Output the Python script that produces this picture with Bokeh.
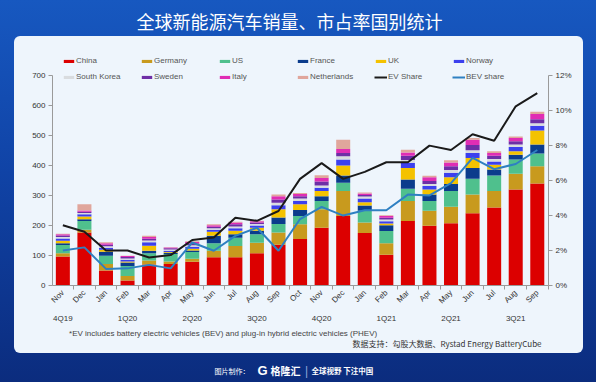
from math import pi
from bokeh.plotting import figure
from bokeh.layouts import column, row
from bokeh.models import (Range1d, LinearAxis, FixedTicker, ColumnDataSource, Legend,
                          LegendItem, Label, Spacer)
from bokeh.embed import file_html
from bokeh.resources import INLINE

months = ["Nov", "Dec", "Jan", "Feb", "Mar", "Apr", "May", "Jun", "Jul", "Aug", "Sep", "Oct",
          "Nov", "Dec", "Jan", "Feb", "Mar", "Apr", "May", "Jun", "Jul", "Aug", "Sep"]
quarters = ["4Q19", "1Q20", "2Q20", "3Q20", "4Q20", "1Q21", "2Q21", "3Q21"]
quarter_pos = [0, 3, 6, 9, 12, 15, 18, 21]

countries = ["China", "Germany", "US", "France", "UK", "Norway", "South Korea",
             "Sweden", "Italy", "Netherlands"]
china = [97, 177, 50, 17, 70, 72, 79, 94, 94, 108, 136, 155, 193, 232, 175, 103, 215, 199, 208, 241, 260, 320, 340]
germany = [11, 9, 22, 15, 13, 8, 10, 22, 38, 35, 41, 49, 61, 83, 35, 38, 67, 50, 55, 63, 55, 53, 58]
us = [27, 29, 27, 33, 25, 25, 23, 25, 27, 28, 28, 28, 28, 28, 39, 41, 41, 33, 52, 52, 52, 47, 42]
france = [6, 6, 14, 12, 8, 4, 5, 25, 12, 12, 22, 20, 16, 24, 18, 19, 31, 22, 24, 36, 20, 16, 30]
uk = [8, 9, 6, 3, 17, 3, 6, 13, 12, 10, 27, 19, 17, 33, 11, 6, 38, 16, 22, 33, 16, 12, 47]
norway = [8, 8, 7, 6, 11, 4, 6, 7, 8, 7, 14, 11, 11, 20, 12, 7, 17, 12, 15, 17, 11, 14, 16]
south_korea = [5, 4, 5, 4, 6, 4, 5, 5, 6, 5, 8, 8, 8, 11, 7, 6, 10, 7, 9, 9, 8, 8, 8]
sweden = [5, 4, 5, 5, 6, 4, 6, 5, 7, 5, 11, 8, 13, 11, 5, 6, 14, 10, 13, 18, 11, 11, 14]
italy = [4, 4, 5, 3, 6, 3, 5, 5, 6, 4, 11, 7, 12, 13, 5, 6, 11, 12, 12, 17, 9, 11, 17]
netherlands = [2, 21, 3, 1, 4, 1, 3, 3, 3, 2, 6, 4, 9, 31, 3, 2, 9, 5, 8, 6, 6, 5, 8]

ev_share = [3.45, 3.07, 2.0, 2.0, 1.6, 1.74, 2.6, 2.75, 3.88, 3.7, 4.26, 6.1, 7.0, 6.1, 6.5,
            7.05, 7.05, 8.0, 7.75, 8.65, 8.28, 10.25, 11.0]
bev_share = [2.0, 2.18, 0.95, 0.98, 1.18, 0.98, 2.46, 1.99, 2.84, 3.3, 1.99, 3.8, 4.5, 4.0, 4.3,
             4.3, 5.2, 5.15, 5.85, 7.3, 6.65, 6.95, 7.75]

left_ticks = [0, 100, 200, 300, 400, 500, 600, 700]
right_ticks = [0, 2, 4, 6, 8, 10, 12]

colors = ["#dc0000", "#c89a1e", "#4fc08d", "#0b3c8c", "#f4c200", "#3c40ee", "#d9dcdf",
          "#6e2ea6", "#e02db4", "#e0a69c"]
ev_color = "#1a1a1a"
bev_color = "#2f80c2"
panel_color = "#eef5fc"

FONT = "Liberation Sans"
CJK = "Noto Sans CJK SC"

x = list(range(len(months)))
source = ColumnDataSource(dict(
    x=x, China=china, Germany=germany, US=us, France=france, UK=uk, Norway=norway,
    **{"South Korea": south_korea}, Sweden=sweden, Italy=italy, Netherlands=netherlands,
    ev=ev_share, bev=bev_share))


def text_fig(w, h):
    f = figure(width=w, height=h, output_backend="svg", toolbar_location=None,
               x_range=Range1d(0, w), y_range=Range1d(h, 0),
               x_axis_location=None, y_axis_location=None, min_border=0,
               border_fill_color=None, background_fill_color=None, outline_line_color=None)
    f.xgrid.visible = False
    f.ygrid.visible = False
    return f


# ---------- title strip ----------
title_fig = text_fig(596, 36)
title_fig.add_layout(Label(x=289, y=20, text="全球新能源汽车销量、市占率国别统计",
                           text_align="center", text_baseline="middle", text_font=CJK,
                           text_font_size="18px", text_color="white"))

# ---------- main chart ----------
Y_TOP = 804
p = figure(width=569, height=289, output_backend="svg", toolbar_location=None,
           x_range=Range1d(-0.48, 22.52), y_range=Range1d(0, Y_TOP),
           min_border_left=38, min_border_right=35, min_border_top=8, min_border_bottom=38,
           border_fill_color=None, background_fill_color=None, outline_line_color=None)
p.extra_y_ranges = {"pct": Range1d(0, Y_TOP * 12 / 700)}
p.xgrid.visible = False
p.ygrid.visible = False

bars = p.vbar_stack(countries, x="x", width=0.65, source=source, color=colors,
                    line_color=None)
ev_r = p.line("x", "ev", source=source, y_range_name="pct", line_color=ev_color, line_width=2)
bev_r = p.line("x", "bev", source=source, y_range_name="pct", line_color=bev_color, line_width=2)

ax_col = "#9a9a9a"
lab_col = "#333333"
yl = p.yaxis[0]
yl.ticker = FixedTicker(ticks=left_ticks)
yl.bounds = (0, 700)
yr = LinearAxis(y_range_name="pct", ticker=FixedTicker(ticks=right_ticks), bounds=(0, 12),
                major_label_overrides={t: f"{t}%" for t in right_ticks})
p.add_layout(yr, "right")
for ax in (yl, yr):
    ax.axis_line_color = ax_col
    ax.major_tick_line_color = ax_col
    ax.major_tick_out = 4
    ax.major_tick_in = 0
    ax.minor_tick_line_color = None
    ax.major_label_text_font = FONT
    ax.major_label_text_font_size = "8px"
    ax.major_label_text_color = lab_col
    ax.major_label_standoff = 3

xa = p.xaxis[0]
xa.ticker = FixedTicker(ticks=x, minor_ticks=[i - 0.5 for i in range(len(months) + 1)])
xa.major_label_overrides = {i: m for i, m in enumerate(months)}
xa.major_label_orientation = pi / 4
xa.axis_line_color = ax_col
xa.major_tick_line_color = None
xa.major_tick_out = 4
xa.minor_tick_line_color = ax_col
xa.minor_tick_out = 4
xa.minor_tick_in = 0
xa.major_label_text_font = FONT
xa.major_label_text_font_size = "8px"
xa.major_label_text_color = lab_col
xa.major_label_standoff = 2

qa = LinearAxis(ticker=FixedTicker(ticks=quarter_pos),
                major_label_overrides={pos: q for pos, q in zip(quarter_pos, quarters)})
qa.axis_line_color = None
qa.major_tick_line_color = None
qa.minor_tick_line_color = None
qa.major_tick_out = 0
qa.major_tick_in = 0
qa.major_label_standoff = 2
qa.major_label_text_font = FONT
qa.major_label_text_font_size = "8px"
qa.major_label_text_color = lab_col
p.add_layout(qa, "below")

items = [LegendItem(label=c, renderers=[r]) for c, r in zip(countries, bars)]
items += [LegendItem(label="EV Share", renderers=[ev_r]),
          LegendItem(label="BEV share", renderers=[bev_r])]
legend = Legend(items=items, orientation="horizontal", ncols=6, location=(10, 202),
                glyph_width=13, glyph_height=4, label_standoff=1, label_width=61,
                label_height=13, spacing=3, padding=0, margin=0,
                border_line_color=None, background_fill_alpha=0,
                label_text_font=FONT, label_text_font_size="8px", label_text_color="#555555")
p.add_layout(legend)

# ---------- notes under chart ----------
notes = text_fig(569, 28)
notes.add_layout(Label(x=19, y=7.7,
                       text="*EV includes battery electric vehicles (BEV) and plug-in hybrid electric vehicles (PHEV)",
                       text_align="left", text_baseline="middle", text_font=FONT,
                       text_font_size="8px", text_color="#444444"))
notes.add_layout(Label(x=561, y=18.3, text="数据支持：勾股大数据、Rystad Energy BatteryCube",
                       text_align="right", text_baseline="middle", text_font=CJK,
                       text_font_size="8px", text_color="#333333"))

panel = column(p, notes, width=569, height=317, spacing=0,
               styles={"background-color": panel_color, "border-radius": "6px"})

# ---------- footer ----------
footer = text_fig(596, 29)
footer.add_layout(Label(x=249, y=17, text="图片制作：", text_align="right",
                        text_baseline="middle", text_font=CJK, text_font_size="7px",
                        text_color="white"))
footer.add_layout(Label(x=257, y=17, text="G", text_align="left", text_baseline="middle",
                        text_font=FONT, text_font_size="13px", text_font_style="bold",
                        text_color="white"))
footer.add_layout(Label(x=270, y=17, text="格隆汇", text_align="left", text_baseline="middle",
                        text_font=CJK, text_font_size="10px", text_font_style="bold",
                        text_color="white"))
footer.add_layout(Label(x=306, y=17, text="|", text_align="center", text_baseline="middle",
                        text_font=FONT, text_font_size="12px", text_color="#8fa6d8"))
footer.add_layout(Label(x=311, y=17, text="全球视野 下注中国", text_align="left",
                        text_baseline="middle", text_font=CJK, text_font_size="7.5px",
                        text_font_style="bold", text_color="white"))

root = column(title_fig, row(Spacer(width=14, height=317), panel, spacing=0), footer,
              spacing=0, width=596, height=382)

html = file_html(root, INLINE, title="全球新能源汽车销量、市占率国别统计")
html = html.replace("</head>",
                    "<style>html{min-height:100%;background:linear-gradient(180deg,#1758c0 0%,#1043a6 45%,#0b2c7e 100%);}</style></head>", 1)
open("out.html", "w").write(html)
